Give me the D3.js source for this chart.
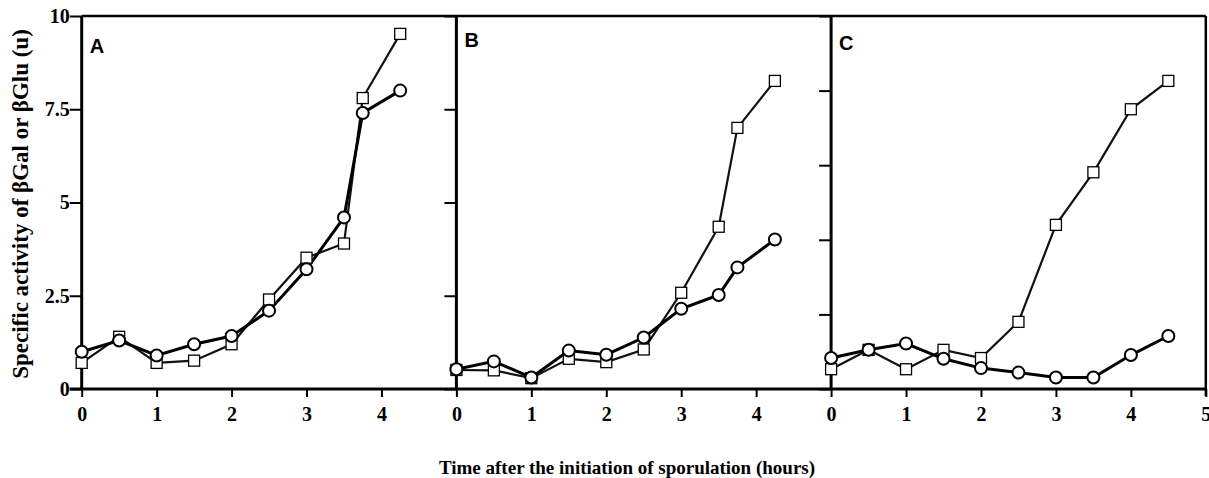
<!DOCTYPE html>
<html>
<head>
<meta charset="utf-8">
<script src="https://cdn.jsdelivr.net/npm/d3@7"></script>
<style>
  body { margin: 0; background: #fff; }
  svg text { fill: #000; }
</style>
</head>
<body>
<div id="chart-area"></div>
<script>
// values
var panelNames = ["A", "B", "C"];
var timeA = [0, 0.5, 1, 1.5, 2, 2.5, 3, 3.5, 3.75, 4.25];
var circleA = [1.0, 1.3, 0.9, 1.2, 1.42, 2.1, 3.21, 4.6, 7.4, 8.0];
var squareA = [0.7, 1.4, 0.7, 0.76, 1.2, 2.4, 3.52, 3.9, 7.8, 9.52];
var timeB = [0, 0.5, 1, 1.5, 2, 2.5, 3, 3.5, 3.75, 4.25];
var circleB = [0.53, 0.74, 0.31, 1.03, 0.92, 1.38, 2.15, 2.52, 3.26, 4.01];
var squareB = [0.51, 0.5, 0.29, 0.81, 0.72, 1.06, 2.58, 4.35, 7.0, 8.26];
var timeC = [0, 0.5, 1, 1.5, 2, 2.5, 3, 3.5, 4, 4.5];
var circleC = [0.83, 1.05, 1.22, 0.81, 0.56, 0.44, 0.31, 0.31, 0.91, 1.42];
var squareC = [0.53, 1.05, 0.53, 1.05, 0.83, 1.8, 4.4, 5.81, 7.5, 8.26];
var xTicksAB = [0, 1, 2, 3, 4];
var xTicksC = [0, 1, 2, 3, 4, 5];
var yTicks = [0, 2.5, 5, 7.5, 10];
var yTickLabels = ["0", "2.5", "5", "7.5", "10"];
var yTicksC = [0, 2, 4, 6, 8, 10];

var width = 1209, height = 478;
var plotLeft = 81.7, plotTop = 16, plotBottom = 389, panelW = 374.7;

var svg = d3.select("#chart-area")
    .append("svg")
    .attr("width", width)
    .attr("height", height);

var y = d3.scaleLinear().domain([0, 10]).range([plotBottom, plotTop]);

var panels = [
    { name: panelNames[0], t: timeA, circ: circleA, sq: squareA, xt: xTicksAB, yt: yTicks, letterY: 53 },
    { name: panelNames[1], t: timeB, circ: circleB, sq: squareB, xt: xTicksAB, yt: yTicks, letterY: 47 },
    { name: panelNames[2], t: timeC, circ: circleC, sq: squareC, xt: xTicksC, yt: yTicksC, letterY: 50 }
];

var serif = "'Liberation Serif', 'Times New Roman', serif";

panels.forEach((p, i) => {
    var x0 = plotLeft + i * panelW;
    var x = d3.scaleLinear().domain([0, 5]).range([x0, x0 + panelW]);
    var g = svg.append("g");

    // x axis
    var xAxis = g.append("g")
        .attr("transform", "translate(0," + plotBottom + ")")
        .call(d3.axisBottom(x).tickValues(p.xt).tickSize(8).tickPadding(10).tickFormat(d3.format("d")));
    xAxis.select(".domain").remove();
    xAxis.selectAll("line").attr("stroke", "#000").attr("stroke-width", 2);
    xAxis.selectAll("text")
        .attr("font-family", serif)
        .attr("font-weight", "bold")
        .attr("font-size", 20);

    // y axis ticks (left, outward)
    var yAxis = g.append("g")
        .attr("transform", "translate(" + x0 + ",0)")
        .call(d3.axisLeft(y).tickValues(p.yt).tickSize(12).tickPadding(0)
            .tickFormat((d, k) => i === 0 ? yTickLabels[k] : ""));
    yAxis.select(".domain").remove();
    yAxis.selectAll("line").attr("stroke", "#000").attr("stroke-width", 2);
    yAxis.selectAll("text")
        .attr("font-family", serif)
        .attr("font-weight", "bold")
        .attr("font-size", 20);

    // frame
    g.append("line")
        .attr("x1", x0).attr("x2", x0)
        .attr("y1", plotTop).attr("y2", plotBottom)
        .attr("stroke", "#000").attr("stroke-width", 3);
    if (i === panels.length - 1) {
        g.append("line")
            .attr("x1", x0 + panelW).attr("x2", x0 + panelW)
            .attr("y1", plotTop).attr("y2", plotBottom + 7)
            .attr("stroke", "#000").attr("stroke-width", 2.5);
    }

    // panel letter
    g.append("text")
        .attr("x", x0 + 8)
        .attr("y", p.letterY)
        .attr("font-family", "'Liberation Sans', Arial, sans-serif")
        .attr("font-weight", "bold")
        .attr("font-size", 20)
        .text(p.name);

    var sqPts = p.t.map((t, k) => [t, p.sq[k]]);
    var circPts = p.t.map((t, k) => [t, p.circ[k]]);
    var line = d3.line().x(d => x(d[0])).y(d => y(d[1]));

    g.append("path")
        .attr("d", line(sqPts))
        .attr("fill", "none")
        .attr("stroke", "#111")
        .attr("stroke-width", 2.2);
    g.append("path")
        .attr("d", line(circPts))
        .attr("fill", "none")
        .attr("stroke", "#000")
        .attr("stroke-width", 3);

    g.selectAll("rect.sq").data(sqPts).enter()
        .append("rect")
        .attr("class", "sq")
        .attr("x", d => x(d[0]) - 5.5)
        .attr("y", d => y(d[1]) - 5.5)
        .attr("width", 11)
        .attr("height", 11)
        .attr("fill", "#fff")
        .attr("stroke", "#000")
        .attr("stroke-width", 1.3);

    g.selectAll("circle").data(circPts).enter()
        .append("circle")
        .attr("cx", d => x(d[0]))
        .attr("cy", d => y(d[1]))
        .attr("r", 6)
        .attr("fill", "#fff")
        .attr("stroke", "#000")
        .attr("stroke-width", 2);
});

// top and bottom borders
svg.append("line")
    .attr("x1", plotLeft).attr("x2", plotLeft + 3 * panelW)
    .attr("y1", plotTop).attr("y2", plotTop)
    .attr("stroke", "#000").attr("stroke-width", 2.5);
svg.append("line")
    .attr("x1", plotLeft - 12).attr("x2", plotLeft + 3 * panelW)
    .attr("y1", plotBottom).attr("y2", plotBottom)
    .attr("stroke", "#000").attr("stroke-width", 3);

// axis titles
svg.append("text")
    .attr("transform", "translate(28,204) rotate(-90)")
    .attr("text-anchor", "middle")
    .attr("font-family", serif)
    .attr("font-weight", "bold")
    .attr("font-size", 23)
    .text("Specific activity of βGal or βGlu (u)");

svg.append("text")
    .attr("x", 627)
    .attr("y", 474)
    .attr("text-anchor", "middle")
    .attr("font-family", serif)
    .attr("font-weight", "bold")
    .attr("font-size", 19)
    .text("Time after the initiation of sporulation (hours)");
</script>
</body>
</html>
